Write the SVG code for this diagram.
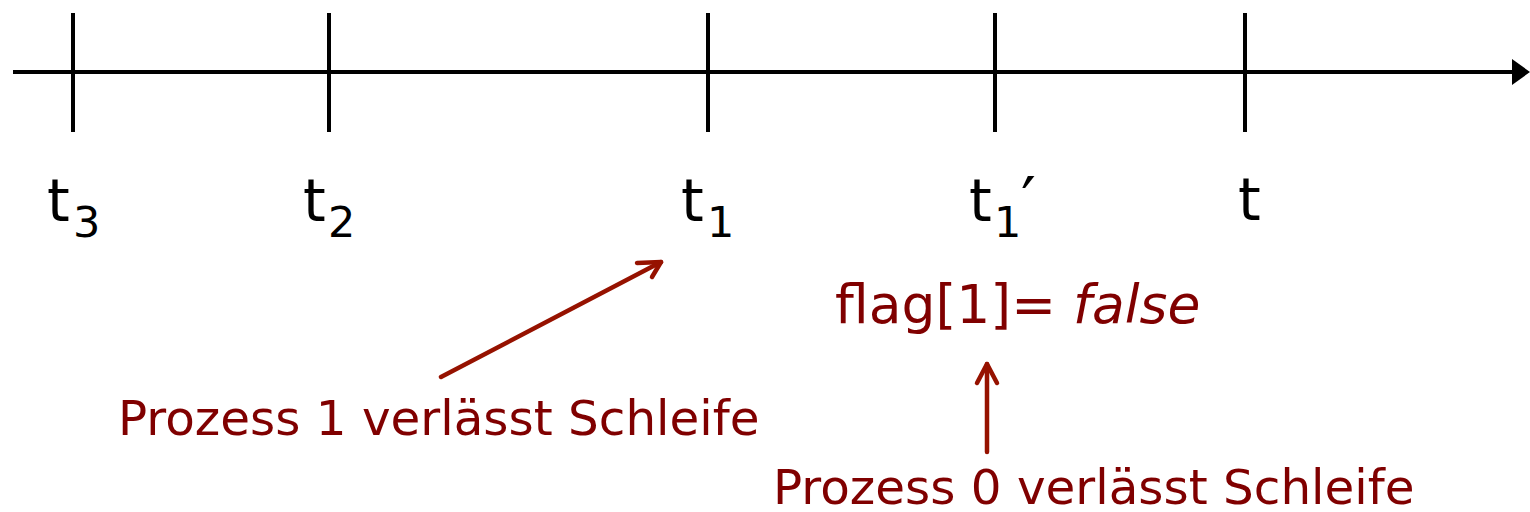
<svg xmlns="http://www.w3.org/2000/svg" width="1530" height="512" viewBox="0 0 1530 512">
<style>
.axis{stroke:#000;stroke-width:4;fill:none}
.lbl{font-family:"DejaVu Sans",Verdana,sans-serif;font-size:58px;fill:#000}
.red{font-family:"DejaVu Sans",Verdana,sans-serif;font-size:48.4px;fill:#800000}
.conn{stroke:#961200;stroke-width:4.5;fill:none;stroke-linecap:round;stroke-linejoin:round}
</style>
<g id="timeline">
<line class="axis" x1="13" y1="72" x2="1514" y2="72"/>
<polygon points="1512,59 1530,72 1512,85" fill="#000"/>
<line class="axis" x1="73" y1="13" x2="73" y2="132"/>
<line class="axis" x1="329" y1="13" x2="329" y2="132"/>
<line class="axis" x1="708" y1="13" x2="708" y2="132"/>
<line class="axis" x1="995" y1="13" x2="995" y2="132"/>
<line class="axis" x1="1245" y1="13" x2="1245" y2="132"/>
</g>
<g id="t3"><text class="lbl" x="47" y="221">t<tspan style="font-size:43px" x="73" y="237">3</tspan></text></g>
<g id="t2"><text class="lbl" x="303" y="221">t<tspan style="font-size:43px" x="328" y="237">2</tspan></text></g>
<g id="t1"><text class="lbl" x="681" y="221">t<tspan style="font-size:43px" x="707" y="237">1</tspan></text></g>
<g id="t1p"><text class="lbl" x="969" y="221">t<tspan style="font-size:43px" x="994" y="237">1</tspan><tspan x="1021" y="224" style="font-size:66px">′</tspan></text></g>
<g id="t"><text class="lbl" x="1238" y="220">t</text></g>
<g id="flag"><text class="red" x="835" y="323" style="font-size:53.5px">flag[1]= <tspan font-style="italic">false</tspan></text></g>
<g id="p1"><text class="red" x="118" y="435">Prozess 1 verlässt Schleife</text></g>
<g id="p0"><text class="red" x="773" y="504">Prozess 0 verlässt Schleife</text></g>
<g id="connectors">
<path class="conn" d="M441,377 L661,262"/>
<path class="conn" d="M637,263 L661,262 L652,277"/>
<path class="conn" d="M987,452 L987,364"/>
<path class="conn" d="M977,383 L987,364 L997,383"/>
</g>
</svg>
